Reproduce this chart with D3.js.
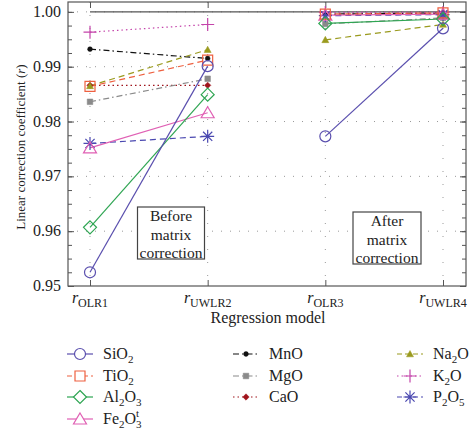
<!DOCTYPE html>
<html lang="en">
<head>
<meta charset="utf-8">
<title>Linear correction coefficient</title>
<script src="https://cdn.jsdelivr.net/npm/d3@7"></script>
<style>
  body { margin: 0; background: #fff; }
  text { font-family: "Liberation Serif", "Times New Roman", serif; fill: #222; }
</style>
</head>
<body>
<script>
// data
var models = ["OLR1", "UWLR2", "OLR3", "UWLR4"];
var yTicks = [0.95, 0.96, 0.97, 0.98, 0.99, 1.00];

var sio2  = [0.9525, 0.9901, 0.9773, 0.9970];
var tio2  = [0.9864, 0.9912, 0.9996, 0.9998];
var al2o3 = [0.9607, 0.9849, 0.9979, 0.9987];
var fe2o3 = [0.9752, 0.9816, 0.9994, 0.9996];
var mno   = [0.9932, 0.9915, 0.9996, 0.9998];
var mgo   = [0.9836, 0.9878, 0.9978, 0.9989];
var cao   = [0.9866, 0.9866, 0.9995, 0.9997];
var na2o  = [0.9865, 0.9931, 0.9949, 0.9977];
var k2o   = [0.9963, 0.9977, 0.9999, 0.9999];
var p2o5  = [0.9760, 0.9773, 0.9993, 0.9995];

var series = [
  {name: [["SiO"], ["2", "sub"]], vals: sio2, color: "#5a4fae", dash: null, mark: "circle", col: 0, row: 0},
  {name: [["TiO"], ["2", "sub"]], vals: tio2, color: "#ee6040", dash: "6,4", mark: "square", col: 0, row: 1},
  {name: [["Al"], ["2", "sub"], ["O"], ["3", "sub"]], vals: al2o3, color: "#2ea552", dash: null, mark: "diamond", col: 0, row: 2},
  {name: [["Fe"], ["2", "sub"], ["O"], ["3", "subsup"]], vals: fe2o3, color: "#e060b4", dash: null, mark: "triangle", col: 0, row: 3},
  {name: [["MnO"]], vals: mno, color: "#111", dash: "6,3,1.5,3", mark: "dot", col: 1, row: 0},
  {name: [["MgO"]], vals: mgo, color: "#8a8a8a", dash: "6,3,1.5,3", mark: "smallsquare", col: 1, row: 1},
  {name: [["CaO"]], vals: cao, color: "#a0141c", dash: "1.5,3", mark: "smalldiamond", col: 1, row: 2},
  {name: [["Na"], ["2", "sub"], ["O"]], vals: na2o, color: "#9a9a1e", dash: "6,4", mark: "smalltriangle", col: 2, row: 0},
  {name: [["K"], ["2", "sub"], ["O"]], vals: k2o, color: "#c444aa", dash: "1.5,3", mark: "plus", col: 2, row: 1},
  {name: [["P"], ["2", "sub"], ["O"], ["5", "sub"]], vals: p2o5, color: "#4a48b0", dash: "6,4", mark: "star", col: 2, row: 2}
];

var width = 469, height = 435;
var plot = {left: 68, right: 466, top: 2, bottom: 286};

var svg = d3.select("body").append("svg")
  .attr("width", width)
  .attr("height", height);

var x = d3.scalePoint().domain(models).range([90, 443]);
var y = d3.scaleLinear().domain([0.95, 1.0018]).range([plot.bottom, plot.top]);

// grid
svg.append("g").selectAll("line")
  .data(yTicks.slice(1))
  .enter().append("line")
  .attr("x1", plot.left).attr("x2", plot.right)
  .attr("y1", function(d) { return y(d); }).attr("y2", function(d) { return y(d); })
  .attr("stroke", "#999").attr("stroke-width", 1).attr("stroke-dasharray", "1,8");

svg.append("g").selectAll("line")
  .data(models)
  .enter().append("line")
  .attr("x1", function(d) { return x(d); }).attr("x2", function(d) { return x(d); })
  .attr("y1", plot.top).attr("y2", plot.bottom)
  .attr("stroke", "#999").attr("stroke-width", 1).attr("stroke-dasharray", "1,12");

// reference line at r = 1
svg.append("line")
  .attr("x1", x(models[0])).attr("x2", plot.right)
  .attr("y1", y(1)).attr("y2", y(1))
  .attr("stroke", "#555").attr("stroke-width", 1.3);

// axes
var minor = d3.range(0.95, 1.0018, 0.0025);
var yLeft = d3.axisRight(y).tickValues(minor).tickSize(4).tickFormat("");
var yRight = d3.axisLeft(y).tickValues(minor).tickSize(4).tickFormat("");
svg.append("g").attr("transform", "translate(" + plot.left + ",0)").call(yLeft);
svg.append("g").attr("transform", "translate(" + plot.right + ",0)").call(yRight);
svg.append("g").attr("transform", "translate(" + plot.left + ",0)")
  .call(d3.axisRight(y).tickValues(yTicks).tickSize(6).tickFormat(""));
svg.append("g").attr("transform", "translate(" + plot.right + ",0)")
  .call(d3.axisLeft(y).tickValues(yTicks).tickSize(6).tickFormat(""));
svg.append("g").attr("transform", "translate(0," + plot.bottom + ")")
  .call(d3.axisTop(x).tickSize(6).tickFormat(""));
svg.append("g").attr("transform", "translate(0," + plot.top + ")")
  .call(d3.axisBottom(x).tickSize(6).tickFormat(""));
svg.selectAll(".domain").remove();
svg.selectAll(".tick line").attr("stroke", "#555");

svg.append("rect")
  .attr("x", plot.left).attr("y", plot.top)
  .attr("width", plot.right - plot.left).attr("height", plot.bottom - plot.top)
  .attr("fill", "none").attr("stroke", "#555").attr("stroke-width", 1.2);

// y tick labels
svg.append("g").selectAll("text")
  .data(yTicks)
  .enter().append("text")
  .attr("x", plot.left - 7)
  .attr("y", function(d) { return y(d) + 5; })
  .attr("text-anchor", "end")
  .attr("font-size", 16)
  .text(function(d) { return d3.format(".2f")(d); });

// x tick labels
var xl = svg.append("g").selectAll("text")
  .data(models)
  .enter().append("text")
  .attr("x", function(d) { return x(d); })
  .attr("y", 303)
  .attr("text-anchor", "middle")
  .attr("font-size", 16);
xl.append("tspan").attr("font-style", "italic").text("r");
xl.append("tspan").attr("font-size", 12).attr("dy", 4).text(function(d) { return d; });

// axis titles
svg.append("text")
  .attr("x", 268).attr("y", 323)
  .attr("text-anchor", "middle")
  .attr("font-size", 16)
  .text("Regression model");

var yt = svg.append("text")
  .attr("transform", "translate(25,147) rotate(-90)")
  .attr("text-anchor", "middle")
  .attr("font-size", 13);
yt.append("tspan").text("Linear correction coefficient (");
yt.append("tspan").attr("font-style", "italic").text("r");
yt.append("tspan").text(")");

// annotation boxes
function noteBox(cx, top, w, h, lines) {
  svg.append("rect")
    .attr("x", cx - w / 2).attr("y", top).attr("width", w).attr("height", h)
    .attr("fill", "#fff").attr("stroke", "#444").attr("stroke-width", 1.2);
  svg.append("g").selectAll("text")
    .data(lines)
    .enter().append("text")
    .attr("x", cx)
    .attr("y", function(d, i) { return top + 14 + i * 18.5; })
    .attr("text-anchor", "middle")
    .attr("font-size", 15.5)
    .text(function(d) { return d; });
}

// marker shapes
function markPath(type) {
  switch (type) {
    case "circle": return d3.symbol(d3.symbolCircle, 95)();
    case "square": return "M-5,-5H5V5H-5Z";
    case "diamond": return "M0,-6.5L6.5,0L0,6.5L-6.5,0Z";
    case "triangle": return "M0,-6L6.5,5H-6.5Z";
    case "dot": return d3.symbol(d3.symbolCircle, 18)();
    case "smallsquare": return "M-2.8,-2.8H2.8V2.8H-2.8Z";
    case "smalldiamond": return "M0,-3.2L3.2,0L0,3.2L-3.2,0Z";
    case "smalltriangle": return "M0,-3.5L3.5,2.8H-3.5Z";
    case "plus": return "M-6.5,0H6.5M0,-6.5V6.5";
    case "star": return "M-6.5,0H6.5M0,-6.5V6.5M-4.6,-4.6L4.6,4.6M-4.6,4.6L4.6,-4.6";
  }
}
function isFilled(type) {
  return ["dot", "smallsquare", "smalldiamond", "smalltriangle"].indexOf(type) >= 0;
}

// before/after segments are drawn separately (no link between UWLR2 and OLR3)
var line = d3.line()
  .x(function(d) { return x(d.m); })
  .y(function(d) { return y(d.v); });

function segments(vals) {
  var pts = vals.map(function(v, i) { return {m: models[i], v: v}; });
  return [pts.slice(0, 2), pts.slice(2, 4)];
}

var drawOrder = [6, 4, 5, 7, 8, 9, 3, 1, 2, 0];
drawOrder.forEach(function(k) {
  var s = series[k];
  svg.append("g").selectAll("path")
    .data(segments(s.vals))
    .enter().append("path")
    .attr("d", line)
    .attr("fill", "none")
    .attr("stroke", s.color)
    .attr("stroke-width", 1.2)
    .attr("stroke-dasharray", s.dash);
});
drawOrder.forEach(function(k) {
  var s = series[k];
  svg.append("g").selectAll("path")
    .data(s.vals)
    .enter().append("path")
    .attr("transform", function(d, i) { return "translate(" + x(models[i]) + "," + y(d) + ")"; })
    .attr("d", markPath(s.mark))
    .attr("fill", isFilled(s.mark) ? s.color : "none")
    .attr("stroke", s.color)
    .attr("stroke-width", isFilled(s.mark) ? 0.5 : 1.2);
});

noteBox(171, 207, 67, 52, ["Before", "matrix", "correction"]);
noteBox(387, 212, 68, 52, ["After", "matrix", "correction"]);

// legend
var colX = [67, 233, 397];
var rowY = [354, 376, 397, 419];
var lg = svg.append("g").selectAll("g")
  .data(series)
  .enter().append("g")
  .attr("transform", function(d) { return "translate(" + colX[d.col] + "," + rowY[d.row] + ")"; });
lg.append("line")
  .attr("x1", 0).attr("x2", 26)
  .attr("stroke", function(d) { return d.color; })
  .attr("stroke-width", 1.2)
  .attr("stroke-dasharray", function(d) { return d.dash ? (d.dash === "6,4" ? "5,3" : d.dash) : null; });
lg.append("path")
  .attr("transform", "translate(13,0)")
  .attr("d", function(d) { return markPath(d.mark); })
  .attr("fill", function(d) { return isFilled(d.mark) ? d.color : "#fff"; })
  .attr("stroke", function(d) { return d.color; })
  .attr("stroke-width", function(d) { return isFilled(d.mark) ? 0.5 : 1.2; });
var lt = lg.append("text")
  .attr("x", 36).attr("y", 5)
  .attr("font-size", 16);
lt.each(function(d) {
  var t = d3.select(this);
  var shift = 0;
  d.name.forEach(function(p) {
    var sp = t.append("tspan").text(p[0]);
    if (p[1] === "sub" || p[1] === "subsup") {
      sp.attr("font-size", 11).attr("dy", 4 - shift);
      shift = 4;
    } else {
      sp.attr("dy", -shift);
      shift = 0;
    }
    if (p[1] === "subsup") {
      t.append("tspan").attr("font-size", 11).attr("dx", -5.5).attr("dy", -11).text("t");
    }
  });
});
</script>
</body>
</html>
